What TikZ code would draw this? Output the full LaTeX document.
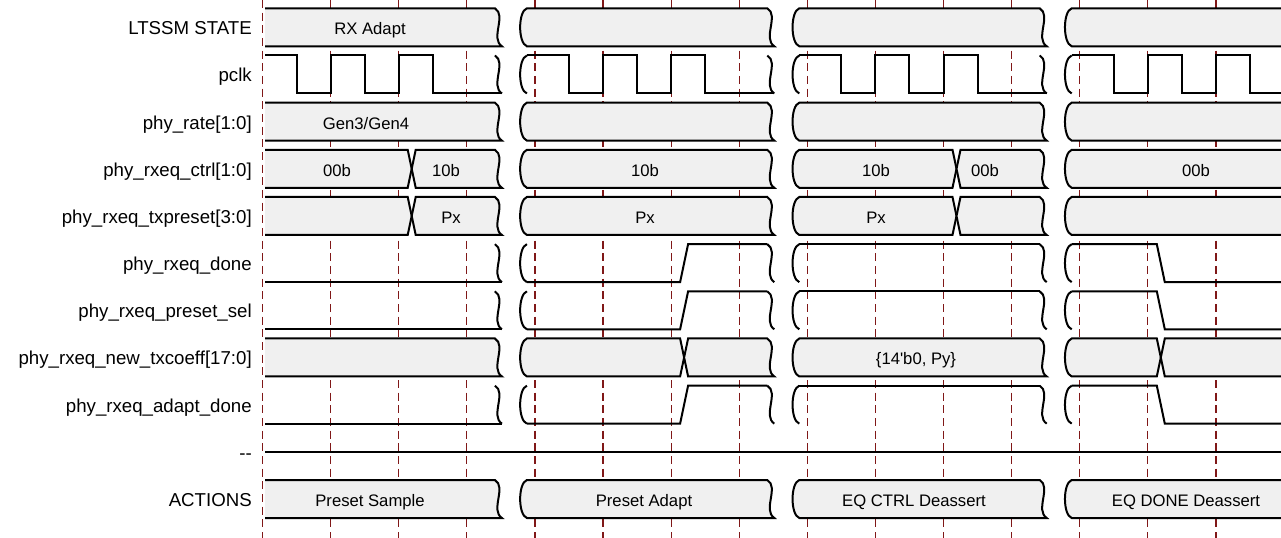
\documentclass[tikz,border=0pt]{standalone}
\usepackage{fontspec}
\setmainfont{Liberation Sans}
\definecolor{busfill}{RGB}{240,240,240}
\definecolor{edgered}{RGB}{128,24,24}
\tikzset{
  wave/.style={line width=1.5pt},
  bus/.style={wave, fill=busfill},
  edgeline/.style={edgered, line width=0.9pt, dash pattern=on 6pt off 3.5pt},
  siglabel/.style={anchor=base east, inner sep=0pt, font=\fontsize{14}{16}\selectfont},
  buslabel/.style={anchor=base, inner sep=0pt, font=\fontsize{12.5}{15}\selectfont}
}
\newcommand\gapR[1]{-- (#1,0) .. controls (#1+12,7) and (#1-5,30) .. (#1+7,38)}
\newcommand\gapL[1]{-- (#1,38) .. controls (#1-9,35) and (#1-9,3) .. (#1,0)}
\newcommand\trR[1]{-- (#1-4,0) -- (#1,19) -- (#1-4,38)}
\newcommand\trL[1]{-- (#1+4,38) -- (#1,19) -- (#1+4,0)}
\newcommand\sqR[1]{(#1,0) .. controls (#1+12,7) and (#1-5,30) .. (#1+7,38)}
\newcommand\sqL[1]{(#1,38) .. controls (#1-9,35) and (#1-9,3) .. (#1,0)}
\newcommand\clk[3]{(#1,0) -- (#2+34.05,0) -- (#2+34.05,38) -- (#2+68.1,38) -- (#2+68.1,0) -- (#2+102.15,0) -- (#2+102.15,38) -- (#2+136.2,38) -- (#2+136.2,0) -- (#2+170.25,0) -- (#2+170.25,38) -- (#3,38)}
\begin{document}
\begin{tikzpicture}[x=0.75pt, y=-0.75pt]
  \useasboundingbox (0,0) rectangle (1281,538);
  \clip (0,0) rectangle (1281,538);
  \foreach \k in {0,...,14} \draw[edgeline] (262.5+\k*68.1,0) -- (262.5+\k*68.1,538);
  \foreach \name [count=\i from 0] in {{LTSSM STATE},{pclk},{phy\_rate[1:0]},{phy\_rxeq\_ctrl[1:0]},{phy\_rxeq\_txpreset[3:0]},{phy\_rxeq\_done},{phy\_rxeq\_preset\_sel},{phy\_rxeq\_new\_txcoeff[17:0]},{phy\_rxeq\_adapt\_done},{{-}{-}},{ACTIONS}}
    \node[siglabel] (lbl\i) at (252,34.8+47.17*\i) {\name};
  % plain buses
  \foreach \T in {8.3,102.64,480}{
    \begin{scope}[shift={(0,\T)}]
      \filldraw[bus] (265,0) \gapR{494.9} -- (265,38);
      \filldraw[bus] (526.9,0) \gapR{767.3} \gapL{526.9} -- cycle;
      \filldraw[bus] (799.3,0) \gapR{1039.7} \gapL{799.3} -- cycle;
      \filldraw[bus] (1071.7,0) -- (1290,0) -- (1290,38) \gapL{1071.7} -- cycle;
    \end{scope}
  }
  % ctrl and txpreset
  \foreach \T in {149.81,196.98}{
    \begin{scope}[shift={(0,\T)}]
      \filldraw[bus] (265,0) \trR{411.7} -- (265,38);
      \filldraw[bus] (415.7,0) \gapR{494.9} \trL{411.7} -- cycle;
      \filldraw[bus] (526.9,0) \gapR{767.3} \gapL{526.9} -- cycle;
      \filldraw[bus] (799.3,0) \trR{956.5} \gapL{799.3} -- cycle;
      \filldraw[bus] (960.5,0) \gapR{1039.7} \trL{956.5} -- cycle;
      \filldraw[bus] (1071.7,0) -- (1290,0) -- (1290,38) \gapL{1071.7} -- cycle;
    \end{scope}
  }
  % new_txcoeff
  \begin{scope}[shift={(0,338.49)}]
    \filldraw[bus] (265,0) \gapR{494.9} -- (265,38);
    \filldraw[bus] (526.9,0) \trR{684.1} \gapL{526.9} -- cycle;
    \filldraw[bus] (688.1,0) \gapR{767.3} \trL{684.1} -- cycle;
    \filldraw[bus] (799.3,0) \gapR{1039.7} \gapL{799.3} -- cycle;
    \filldraw[bus] (1071.7,0) \trR{1160.8} \gapL{1071.7} -- cycle;
    \filldraw[bus] (1164.8,0) -- (1290,0) -- (1290,38) \trL{1160.8} -- cycle;
  \end{scope}
  % pclk
  \begin{scope}[shift={(0,55.47)}]
    \draw[wave] \clk{265}{262.5}{501.9} \clk{526.9}{534.9}{774.3} \clk{799.3}{807.3}{1046.7} \clk{1071.7}{1079.7}{1290};
  \end{scope}
  % done, preset_sel, adapt_done
  \foreach \T in {244.15,291.32,385.66}{
    \begin{scope}[shift={(0,\T)}]
      \draw[wave] (265,38) -- (501.9,38);
      \draw[wave] (526.9,38) -- (680.1,38) -- (688.1,0) -- (767.3,0);
      \draw[wave] (799.3,0) -- (1039.7,0);
      \draw[wave] (1071.7,0) -- (1156.8,0) -- (1164.8,38) -- (1290,38);
    \end{scope}
  }
  \foreach \T in {55.47,244.15,291.32,385.66}{
    \begin{scope}[shift={(0,\T)}]
      \draw[wave] \sqR{494.9} \sqL{526.9} \sqR{767.3} \sqL{799.3} \sqR{1039.7} \sqL{1071.7};
    \end{scope}
  }
  % --
  \draw[wave] (265,451.83) -- (1290,451.83);
  % values
  \node[buslabel] (state) at (370,34.8) {RX Adapt};
  \node[buslabel] (rate) at (366,129.14) {Gen3/Gen4};
  \node[buslabel] (ctrla) at (337,176.31) {00b};
  \node[buslabel] (ctrlb) at (446,176.31) {10b};
  \node[buslabel] (ctrlc) at (645,176.31) {10b};
  \node[buslabel] (ctrld) at (876,176.31) {10b};
  \node[buslabel] (ctrle) at (985,176.31) {00b};
  \node[buslabel] (ctrlf) at (1196,176.31) {00b};
  \node[buslabel] (preseta) at (451,223.48) {Px};
  \node[buslabel] (presetb) at (645,223.48) {Px};
  \node[buslabel] (presetc) at (876,223.48) {Px};
  \node[buslabel] (coeff) at (916,364.99) {\{14\textquotesingle b0, Py\}};
  \node[buslabel] (acta) at (370,506.5) {Preset Sample};
  \node[buslabel] (actb) at (644,506.5) {Preset Adapt};
  \node[buslabel] (actc) at (914,506.5) {EQ CTRL Deassert};
  \node[buslabel] (actd) at (1186,506.5) {EQ DONE Deassert};
\end{tikzpicture}
\end{document}
